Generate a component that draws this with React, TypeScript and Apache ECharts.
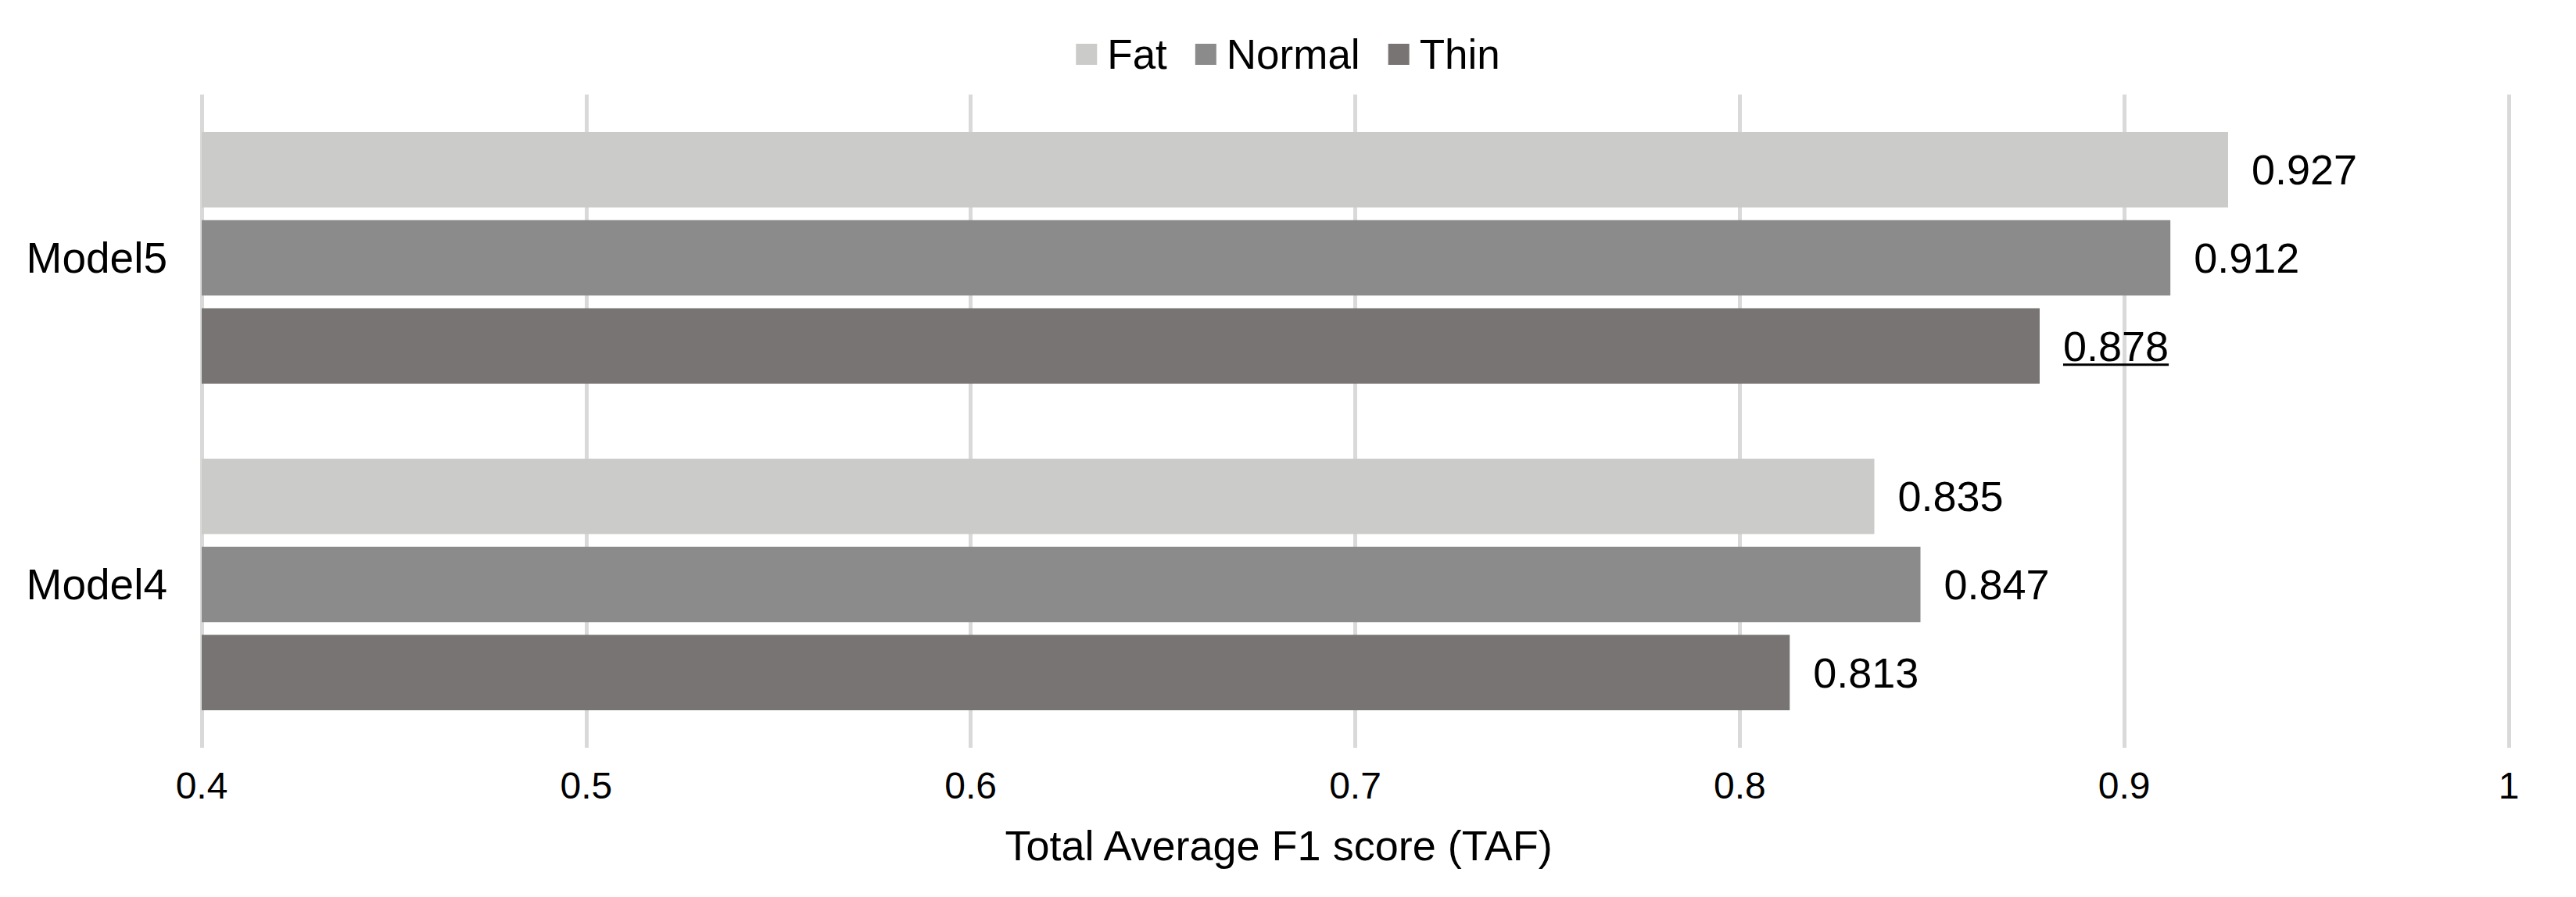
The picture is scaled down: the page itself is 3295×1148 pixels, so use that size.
import React, { useEffect, useRef } from "react";
import * as echarts from "echarts";

const categories = ["Model4", "Model5"];
const seriesNames = ["Fat", "Normal", "Thin"];
const fatValues = [0.835, 0.927];
const normalValues = [0.847, 0.912];
const thinValues = [0.813, 0.878];
const xTicks = { min: 0.4, max: 1, interval: 0.1 };
const axisTitle = "Total Average F1 score (TAF)";
// the highlighted (underlined) value: series index 2 (Thin), category index 1 (Model5)
const underlined = { series: 2, dataIndex: 1 };

const colors = ["#CBCBC9", "#8B8B8B", "#787473"];
const FONT = '"Liberation Sans", Arial, sans-serif';
const LABEL_SIZE = 54;
const LABEL_DIST = 30;

export default function App() {
  const ref = useRef<HTMLDivElement>(null);
  useEffect(() => {
    document.body.style.margin = "0";
    const chart = echarts.init(ref.current!, null, { renderer: "svg" });
    const values = [fatValues, normalValues, thinValues];
    chart.setOption({
      animation: false,
      backgroundColor: "#ffffff",
      textStyle: { fontFamily: FONT },
      legend: {
        data: seriesNames,
        top: 38,
        left: "center",
        itemWidth: 27,
        itemHeight: 27,
        itemGap: 36,
        icon: "rect",
        textStyle: { fontSize: 53, color: "#000", fontFamily: FONT, padding: [0, 0, 0, 8] },
      },
      grid: { left: 258, right: 86, top: 121, bottom: 191, containLabel: false },
      xAxis: {
        type: "value",
        min: xTicks.min,
        max: xTicks.max,
        interval: xTicks.interval,
        axisLine: { show: false },
        axisTick: { show: false },
        splitLine: { show: true, lineStyle: { color: "#D9D9D9", width: 5 } },
        axisLabel: {
          fontSize: 48,
          color: "#000",
          margin: 24,
          fontFamily: FONT,
          formatter: (v: number) => String(+v.toFixed(1)),
        },
        name: axisTitle,
        nameLocation: "middle",
        nameGap: 98,
        nameTextStyle: { fontSize: 54, color: "#000", fontFamily: FONT, padding: [0, 196, 0, 0] },
      },
      yAxis: {
        type: "category",
        data: categories,
        axisLine: { show: false },
        axisTick: { show: false },
        axisLabel: { fontSize: 55, color: "#000", margin: 44, fontFamily: FONT },
      },
      series: seriesNames.map((name, i) => ({
        name,
        type: "bar",
        data: values[i],
        itemStyle: { color: colors[i] },
        barGap: "17%",
        barCategoryGap: "23%",
        label: {
          show: true,
          position: "right",
          distance: LABEL_DIST,
          fontSize: LABEL_SIZE,
          color: "#000",
          fontFamily: FONT,
          formatter: (p: any) => p.value.toFixed(3),
        },
      })),
    });

    // underline for the highlighted value, placed from the bar's own layout
    try {
      const data = (chart as any).getModel().getSeriesByIndex(underlined.series).getData();
      const lay = data.getItemLayout(underlined.dataIndex);
      const val = data.get(data.mapDimension("x"), underlined.dataIndex);
      const text = Number(val).toFixed(3);
      const cv = document.createElement("canvas").getContext("2d")!;
      cv.font = `${LABEL_SIZE}px ${FONT}`;
      const w = cv.measureText(text).width;
      const x0 = lay.x + lay.width + LABEL_DIST;
      const yc = lay.y + lay.height / 2 + 24;
      chart.setOption({
        graphic: [
          {
            type: "line",
            shape: { x1: x0, y1: yc, x2: x0 + w, y2: yc },
            style: { stroke: "#000", lineWidth: 3 },
          },
        ],
      });
    } catch (e) {
      // ignore
    }
    return () => chart.dispose();
  }, []);
  return <div ref={ref} style={{ width: 3295, height: 1148 }} />;
}
